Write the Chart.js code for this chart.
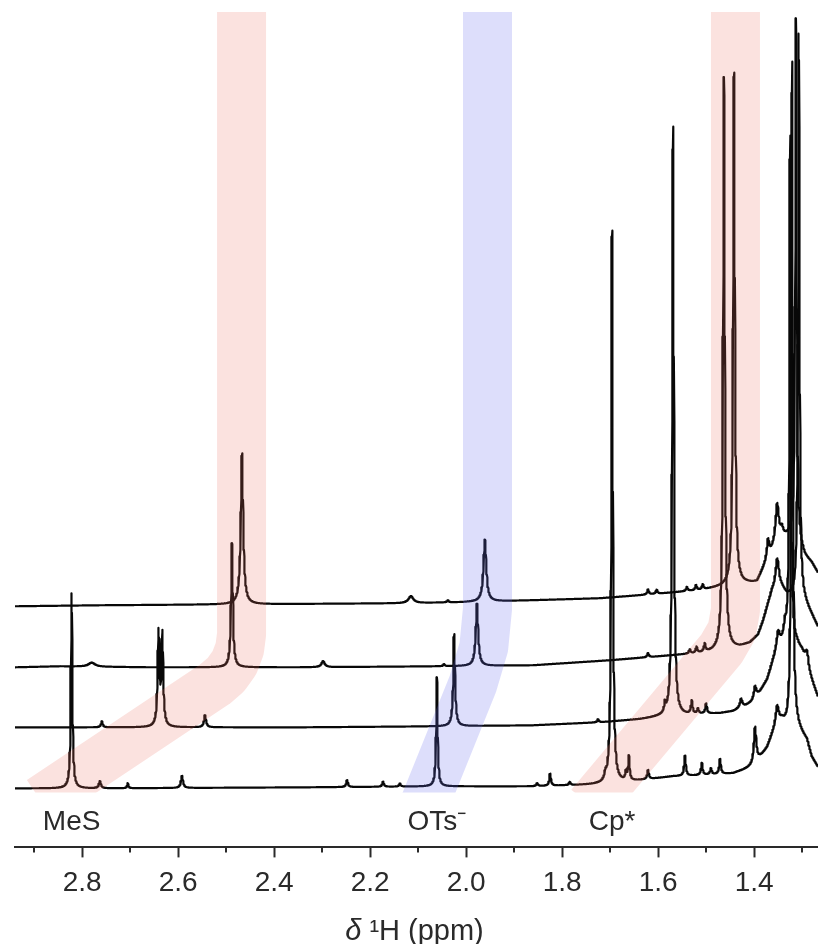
<!DOCTYPE html>
<html>
<head>
<meta charset="utf-8">
<script src="https://cdn.jsdelivr.net/npm/chart.js@4.4.1/dist/chart.umd.min.js"></script>
<style>
  html, body { margin: 0; padding: 0; background: #ffffff; }
  canvas { display: block; }
</style>
</head>
<body>
<canvas id="nmr" width="818" height="944"></canvas>
<script>
// 1H NMR stack plot: four spectra, offset vertically (top trace first).
// Shift axis in ppm, decreasing to the right.
const shiftRange = [1.267, 2.94];
const labelledTicks = [2.8, 2.6, 2.4, 2.2, 2.0, 1.8, 1.6, 1.4];

// Baseline of each trace: [ppm, level]
const topBaseline = [
  [2.94, 241], [2.763, 242], [2.45, 243], [2.138, 244], [2.013, 245], [1.861, 247],
  [1.721, 249], [1.638, 252], [1.513, 257], [1.471, 260], [1.43, 263], [1.405, 264],
  [1.394, 265], [1.388, 271], [1.378, 281], [1.367, 291], [1.357, 301], [1.346, 307],
  [1.336, 309], [1.325, 310], [1.305, 300], [1.294, 290], [1.28, 284], [1.267, 274]
];
const secondBaseline = [
  [2.94, 180], [2.846, 181], [2.659, 180], [2.346, 180], [2.055, 181], [1.861, 182],
  [1.7, 187], [1.569, 192], [1.513, 194], [1.471, 196], [1.43, 200], [1.409, 204],
  [1.392, 212], [1.382, 225], [1.371, 243], [1.363, 255], [1.35, 263], [1.342, 259],
  [1.332, 252], [1.321, 250], [1.305, 250], [1.294, 244], [1.28, 232], [1.267, 220]
];
const thirdBaseline = [
  [2.94, 120], [2.659, 120], [2.346, 120], [2.055, 121], [1.861, 122], [1.721, 125],
  [1.638, 128], [1.603, 130], [1.513, 133], [1.471, 134], [1.444, 136], [1.419, 141],
  [1.405, 145], [1.388, 155], [1.373, 167], [1.361, 185], [1.35, 199], [1.336, 205],
  [1.325, 202], [1.311, 202], [1.3, 195], [1.284, 172], [1.267, 150]
];
const bottomBaseline = [
  [2.94, 59], [2.763, 59], [2.346, 60], [2.055, 61], [1.861, 61], [1.721, 63],
  [1.638, 67], [1.569, 71], [1.513, 72], [1.444, 74], [1.419, 78], [1.405, 81],
  [1.392, 87], [1.382, 93], [1.373, 99], [1.363, 111], [1.352, 122], [1.342, 125],
  [1.332, 120], [1.321, 125], [1.311, 120], [1.3, 113], [1.29, 107], [1.28, 90], [1.267, 80]
];

// Resonances of each trace: [ppm, height, half-width (ppm)]
const topPeaks = [
  [2.467, 151, 0.003], [2.115, 7, 0.006], [2.038, 2, 0.002], [1.961, 62, 0.0035],
  [1.621, 5, 0.002], [1.603, 4, 0.002], [1.54, 4, 0.002], [1.521, 5, 0.002], [1.507, 5, 0.002],
  [1.442, 512, 0.0022], [1.371, 19, 0.003], [1.352, 38, 0.004], [1.342, 8, 0.003],
  [1.313, 524, 0.0018]
];
const secondPeaks = [
  [2.78, 4, 0.008], [2.488, 124, 0.0022], [2.298, 6, 0.004], [2.046, 2, 0.002],
  [1.9775, 62, 0.003], [1.621, 4, 0.002], [1.534, 4, 0.002], [1.52, 6, 0.002], [1.503, 8, 0.002],
  [1.463, 573, 0.0022], [1.352, 26, 0.004], [1.307, 563, 0.0018]
];
const thirdPeaks = [
  [2.759, 6, 0.002], [2.641, 93, 0.0022], [2.633, 91, 0.0022], [2.544, 12, 0.0025],
  [2.025, 92, 0.0022], [1.725, 3, 0.002], [1.586, 9, 0.0018], [1.569, 589, 0.002],
  [1.53, 13, 0.002], [1.517, 5, 0.002], [1.5, 10, 0.002], [1.427, 9, 0.003], [1.398, 12, 0.003],
  [1.35, 15, 0.004], [1.336, 12, 0.003], [1.29, 15, 0.004], [1.325, 508, 0.0018]
];
const bottomPeaks = [
  [2.822, 195, 0.0018], [2.763, 7, 0.0025], [2.705, 5, 0.0015], [2.592, 12, 0.0025],
  [2.248, 7, 0.002], [2.173, 5, 0.002], [2.138, 3, 0.002], [2.061, 109, 0.0018],
  [1.852, 3, 0.002], [1.825, 12, 0.002], [1.784, 3, 0.002], [1.71, 6, 0.002],
  [1.696, 552, 0.0019], [1.667, 8, 0.0018], [1.661, 24, 0.0018], [1.621, 9, 0.002],
  [1.544, 20, 0.002], [1.509, 12, 0.002], [1.49, 6, 0.002], [1.471, 15, 0.002],
  [1.398, 36, 0.003], [1.352, 18, 0.004], [1.321, 660, 0.0018]
];

// Highlight bands following a resonance through the stack: [ppm, level] centre lines
const mesBand = [[2.468, 900], [2.468, 213], [2.4719, 198.5], [2.4827, 184.8], [2.5002, 172.9], [2.5235, 163.2], [2.8869, 47]];
const otsBand = [[1.9556, 900], [1.9556, 238.4], [1.9633, 200.2], [1.986, 163.4], [2.0881, 42]];
const cpBand = [[1.439, 900], [1.439, 237.1], [1.4465, 216.6], [1.4681, 198.6], [1.7419, 42]];

// Assignment labels under the bottom trace
const assignmentLabels = ['MeS', 'OTs\u207B', 'Cp*'];
const assignmentShifts = [2.822, 2.061, 1.696];

const axisTitle = ['\u03B4', ' \u00B9H (ppm)'];

const FONT = '"Liberation Sans", Arial, Helvetica, sans-serif';
const INK = '#2a2a2a';
const LINE = '#080808';

function isLabelled(v) {
  return labelledTicks.some(t => Math.abs(t - v) < 1e-6);
}

function baselineAt(anchors, x) {
  if (x <= anchors[0][0]) return anchors[0][1];
  for (let i = 1; i < anchors.length; i++) {
    if (x <= anchors[i][0]) {
      const [x0, y0] = anchors[i - 1], [x1, y1] = anchors[i];
      return y0 + (y1 - y0) * (x - x0) / (x1 - x0);
    }
  }
  return anchors[anchors.length - 1][1];
}

// Lorentzian lines on top of the trace baseline
function spectrum(baseline, peaks) {
  const anchors = baseline.slice().sort((a, b) => a[0] - b[0]);
  const xs = [];
  for (let v = shiftRange[0]; v <= shiftRange[1] + 1e-9; v += 0.0004) xs.push(+v.toFixed(4));
  peaks.forEach(p => xs.push(p[0]));
  xs.sort((a, b) => a - b);
  return xs.map(x => {
    let y = baselineAt(anchors, x);
    for (const [c, h, w] of peaks) y += h * w * w / ((x - c) * (x - c) + w * w);
    return { x, y };
  });
}

const traces = [
  [topBaseline, topPeaks],
  [secondBaseline, secondPeaks],
  [thirdBaseline, thirdPeaks],
  [bottomBaseline, bottomPeaks]
];

const bands = [
  [mesBand, 'rgba(235, 110, 95, 0.2)'],
  [otsBand, 'rgba(100, 105, 235, 0.22)'],
  [cpBand, 'rgba(235, 110, 95, 0.2)']
];

const datasets = [];
traces.forEach(([b, p]) => datasets.push({
  data: spectrum(b, p),
  borderColor: LINE,
  borderWidth: 2.2,
  borderJoinStyle: 'round',
  pointRadius: 0,
  tension: 0,
  fill: false,
  order: 1
}));
bands.forEach(([pts, color]) => datasets.push({
  data: pts.map(([x, y]) => ({ x, y })),
  borderColor: color,
  borderWidth: 49,
  borderCapStyle: 'butt',
  borderJoinStyle: 'round',
  pointRadius: 0,
  tension: 0,
  fill: false,
  order: 0,
  clip: { left: 0, top: 0, right: 0, bottom: -55 }
}));

const decorations = {
  id: 'decorations',
  afterDraw(chart) {
    const { ctx, scales: { x, y } } = chart;
    ctx.save();
    // short unlabelled ticks
    ctx.strokeStyle = INK;
    ctx.lineWidth = 2;
    x.ticks.forEach(t => {
      if (isLabelled(t.value)) return;
      const px = Math.round(x.getPixelForValue(t.value));
      ctx.beginPath();
      ctx.moveTo(px, x.top);
      ctx.lineTo(px, x.top + 5);
      ctx.stroke();
    });
    // assignments
    ctx.fillStyle = INK;
    ctx.font = '28px ' + FONT;
    ctx.textAlign = 'center';
    ctx.textBaseline = 'alphabetic';
    assignmentLabels.forEach((txt, i) => {
      ctx.fillText(txt, x.getPixelForValue(assignmentShifts[i]), y.getPixelForValue(0) - 17);
    });
    // axis title with italic delta
    const italic = 'italic 29px ' + FONT, upright = '29px ' + FONT;
    ctx.font = italic;
    const w0 = ctx.measureText(axisTitle[0]).width;
    ctx.font = upright;
    const w1 = ctx.measureText(axisTitle[1]).width;
    const cx = (chart.chartArea.left + chart.chartArea.right) / 2 - 2;
    const start = cx - (w0 + w1) / 2;
    const base = x.bottom - 4;
    ctx.textAlign = 'left';
    ctx.font = italic;
    ctx.fillText(axisTitle[0], start, base);
    ctx.font = upright;
    ctx.fillText(axisTitle[1], start + w0, base);
    ctx.restore();
  }
};

new Chart(document.getElementById('nmr'), {
  type: 'line',
  data: { datasets },
  options: {
    responsive: false,
    animation: false,
    devicePixelRatio: 1,
    events: [],
    parsing: false,
    normalized: true,
    layout: { padding: { left: 15, right: 0, top: 12, bottom: 0 } },
    plugins: { legend: { display: false }, tooltip: { enabled: false } },
    scales: {
      x: {
        type: 'linear',
        reverse: true,
        min: shiftRange[0],
        max: shiftRange[1],
        position: 'bottom',
        border: { display: true, color: INK, width: 2 },
        grid: {
          display: true,
          drawOnChartArea: false,
          drawTicks: true,
          tickLength: 10,
          tickWidth: 2,
          tickColor: ctx => (ctx.tick && isLabelled(ctx.tick.value)) ? INK : 'rgba(0,0,0,0)'
        },
        ticks: {
          stepSize: 0.1,
          includeBounds: false,
          autoSkip: false,
          maxRotation: 0,
          padding: 9,
          color: INK,
          font: { family: FONT, size: 28, lineHeight: 1.2 },
          callback: v => isLabelled(v) ? Number(v).toFixed(1) : ''
        },
        title: {
          display: true,
          text: axisTitle.join(''),
          color: 'rgba(0,0,0,0)',
          font: { family: FONT, size: 28, lineHeight: 1 },
          padding: { top: 7, bottom: 0 }
        }
      },
      y: { display: false, min: 0, max: 835 }
    }
  },
  plugins: [decorations]
});
</script>
</body>
</html>
